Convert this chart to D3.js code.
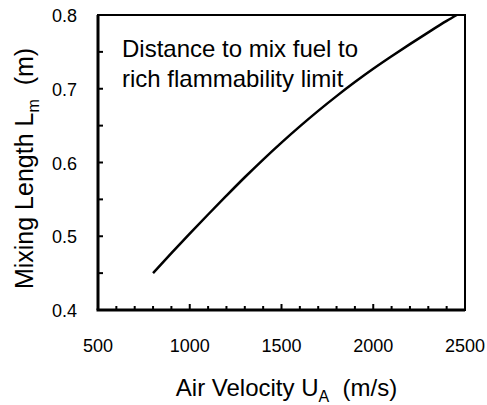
<!DOCTYPE html>
<html>
<head>
<meta charset="utf-8">
<script src="https://cdn.jsdelivr.net/npm/d3@7"></script>
<style>
  body { margin: 0; background: #fff; }
  text { font-family: "Liberation Sans", Arial, sans-serif; fill: #000; }
</style>
</head>
<body>
<svg id="chart"></svg>
<script>
// air velocity (m/s) and mixing length (m)
const velocity = [800, 900, 1000, 1100, 1200, 1300, 1400, 1500, 1600, 1700, 1800, 1900, 2000, 2100, 2200, 2300, 2400, 2455];
const mixLength = [0.450, 0.477, 0.5035, 0.5295, 0.555, 0.580, 0.604, 0.627, 0.649, 0.670, 0.690, 0.709, 0.727, 0.744, 0.7605, 0.7765, 0.792, 0.800];
const xTicks = [500, 1000, 1500, 2000, 2500];
const yTicks = [0.4, 0.5, 0.6, 0.7, 0.8];
const noteLines = ['Distance to mix fuel to', 'rich flammability limit'];

const W = 487, H = 405;
const margin = { top: 15, right: 22, bottom: 95, left: 98 };
const width = W - margin.left - margin.right;
const height = H - margin.top - margin.bottom;

const svg = d3.select('#chart')
    .attr('width', W)
    .attr('height', H);

const g = svg.append('g')
    .attr('transform', `translate(${margin.left},${margin.top})`);

const x = d3.scaleLinear().domain([500, 2500]).range([0, width]);
const y = d3.scaleLinear().domain([0.4, 0.8]).range([height, 0]);

// plot frame (thin top / right)
g.append('rect')
    .attr('width', width)
    .attr('height', height)
    .attr('fill', 'none')
    .attr('stroke', '#000')
    .attr('stroke-width', 2);

// minor / major ticks pointing inward
const xMinor = d3.range(500, 2501, 100);
g.selectAll('.xtick')
    .data(xMinor)
    .join('line')
    .attr('class', 'xtick')
    .attr('x1', (d) => x(d))
    .attr('x2', (d) => x(d))
    .attr('y1', height)
    .attr('y2', (d) => height - (d % 500 === 0 ? 6 : 4))
    .attr('stroke', '#000')
    .attr('stroke-width', 2);

const yMinor = d3.range(0.4, 0.8001, 0.05);
g.selectAll('.ytick')
    .data(yMinor)
    .join('line')
    .attr('class', 'ytick')
    .attr('x1', 0)
    .attr('x2', 5)
    .attr('y1', (d) => y(d))
    .attr('y2', (d) => y(d))
    .attr('stroke', '#000')
    .attr('stroke-width', 2);

// heavy left and bottom axis lines
g.append('line')
    .attr('x1', 0).attr('x2', 0)
    .attr('y1', 0).attr('y2', height)
    .attr('stroke', '#000').attr('stroke-width', 3);
g.append('line')
    .attr('x1', -1.5).attr('x2', width)
    .attr('y1', height).attr('y2', height)
    .attr('stroke', '#000').attr('stroke-width', 3);

// tick labels
g.selectAll('.xlabel')
    .data(xTicks)
    .join('text')
    .attr('class', 'xlabel')
    .attr('x', (d) => x(d))
    .attr('y', height + 42)
    .attr('text-anchor', 'middle')
    .style('font-size', '18px')
    .text((d) => d);

g.selectAll('.ylabel')
    .data(yTicks)
    .join('text')
    .attr('class', 'ylabel')
    .attr('x', -21)
    .attr('y', (d) => y(d) + 7)
    .attr('text-anchor', 'end')
    .style('font-size', '18px')
    .text((d) => d.toFixed(1));

// the curve
const line = d3.line()
    .x((d) => x(d[0]))
    .y((d) => y(d[1]))
    .curve(d3.curveMonotoneX);

g.append('path')
    .datum(velocity.map((v, i) => [v, mixLength[i]]))
    .attr('d', line)
    .attr('fill', 'none')
    .attr('stroke', '#000')
    .attr('stroke-width', 2.5);

// annotation
const note = g.append('text')
    .attr('x', 24)
    .attr('y', 42)
    .style('font-size', '24px');
noteLines.forEach((t, i) => {
    note.append('tspan')
        .attr('x', 24)
        .attr('dy', i === 0 ? 0 : 30)
        .text(t);
});

// x axis title
const xt = svg.append('text')
    .attr('x', margin.left + width / 2 + 5)
    .attr('y', 396)
    .attr('text-anchor', 'middle')
    .style('font-size', '24px');
xt.append('tspan').text('Air Velocity U');
xt.append('tspan').attr('dy', 6).style('font-size', '16px').text('A');
xt.append('tspan').attr('dy', -6).text('\u00a0 (m/s)');

// y axis title
const yt = svg.append('text')
    .attr('transform', `translate(33,${margin.top + height / 2 + 6}) rotate(-90)`)
    .attr('text-anchor', 'middle')
    .style('font-size', '25px');
yt.append('tspan').text('Mixing Length L');
yt.append('tspan').attr('dy', 6).style('font-size', '16px').text('m');
yt.append('tspan').attr('dy', -6).text('\u00a0 (m)');
</script>
</body>
</html>
